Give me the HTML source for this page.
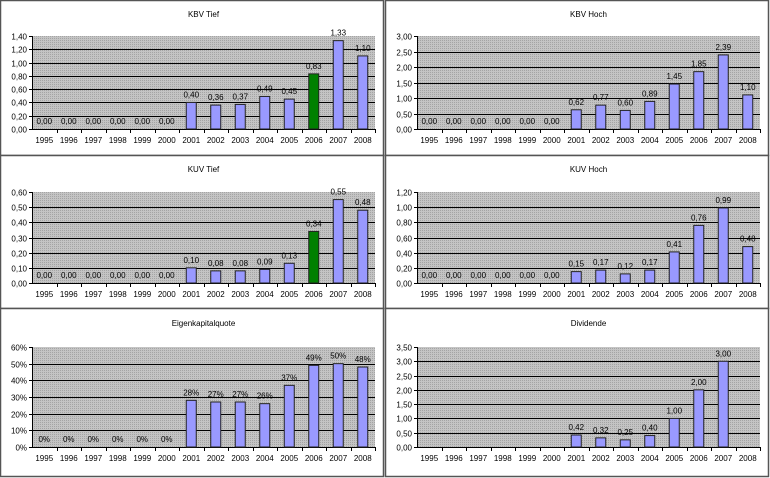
<!DOCTYPE html>
<html><head><meta charset="utf-8">
<style>
html,body{margin:0;padding:0;background:#fff;}
svg{display:block;font-family:"Liberation Sans",Arial,sans-serif;}
</style></head>
<body>
<svg id="c" width="770" height="478" viewBox="0 0 770 478" xmlns="http://www.w3.org/2000/svg">
<defs>
<pattern id="dots" width="2" height="2" patternUnits="userSpaceOnUse">
<rect width="2" height="2" fill="#c4c4c4"/><rect width="1" height="1" fill="#a4a4a4"/>
</pattern>
</defs>
</svg>
<script>
const years = ["1995","1996","1997","1998","1999","2000","2001","2002","2003","2004","2005","2006","2007","2008"];
const kbvTief = [0,0,0,0,0,0,0.40,0.36,0.37,0.49,0.45,0.83,1.33,1.10];
const kbvHoch = [0,0,0,0,0,0,0.62,0.77,0.60,0.89,1.45,1.85,2.39,1.10];
const kuvTief = [0,0,0,0,0,0,0.10,0.08,0.08,0.09,0.13,0.34,0.55,0.48];
const kuvHoch = [0,0,0,0,0,0,0.15,0.17,0.12,0.17,0.41,0.76,0.99,0.48];
const ekQuote = [0,0,0,0,0,0,28,27,27,26,37,49,50,48];
const dividende = [null,null,null,null,null,null,0.42,0.32,0.25,0.40,1.00,2.00,3.00,null];
const highlight = [false,false,false,false,false,false,false,false,false,false,false,true,false,false];

const NS="http://www.w3.org/2000/svg";
const svg=document.getElementById('c');
function mk(tag,attrs,parent){const e=document.createElementNS(NS,tag);for(const k in attrs)e.setAttribute(k,attrs[k]);(parent||svg).appendChild(e);return e;}

const panels=[
 {title:"KBV Tief",data:kbvTief,max:1.4,step:0.2,pct:false,hl:true,px:0,py:0,pw:383,ph:155,x0:32,x1:375,y0:36,y1:129},
 {title:"KBV Hoch",data:kbvHoch,max:3.0,step:0.5,pct:false,hl:false,px:385,py:0,pw:383,ph:155,x0:417,x1:760,y0:36,y1:129},
 {title:"KUV Tief",data:kuvTief,max:0.6,step:0.1,pct:false,hl:true,px:0,py:155,pw:383,ph:153,x0:32,x1:375,y0:192,y1:283},
 {title:"KUV Hoch",data:kuvHoch,max:1.2,step:0.2,pct:false,hl:false,px:385,py:155,pw:383,ph:153,x0:417,x1:760,y0:192,y1:283},
 {title:"Eigenkapitalquote",data:ekQuote,max:60,step:10,pct:true,hl:false,px:0,py:308,pw:383,ph:168,x0:32,x1:375,y0:347,y1:447},
 {title:"Dividende",data:dividende,max:3.5,step:0.5,pct:false,hl:false,px:385,py:308,pw:383,ph:168,x0:417,x1:760,y0:347,y1:447}
];

function fmt(v,pct){return pct?Math.round(v)+"%":v.toFixed(2).replace('.',',');}

panels.forEach((p,pi)=>{
  const g=mk('g',{});
  
  
  const fr=mk('rect',{x:p.px+0.5,y:p.py+0.5,width:p.pw,height:p.ph,fill:'#fff',stroke:'#555','stroke-width':1.5},g);
  
  
  const t=mk('text',{x:(p.x0+p.x1)/2,y:p.py+(pi<4?17:18),'text-anchor':'middle','font-size':'8',fill:'#000'},g);
  t.textContent=p.title;
  
  
  const yS=v=>p.y1-(v/p.max)*(p.y1-p.y0);
  const bg=mk('rect',{x:p.x0,y:p.y0,width:p.x1-p.x0,height:p.y1-p.y0,fill:'url(#dots)'},g);
  
  
  const n=Math.round(p.max/p.step);
  for(let i=0;i<=n;i++){
    const v=i*p.step,y=Math.round(yS(v))+0.5;
    if(i>0&&i<n){const l=mk('line',{x1:p.x0,x2:p.x1,y1:y,y2:y,stroke:'#000','stroke-width':1},g);
      
      }
    mk('line',{x1:p.x0-3,x2:p.x0,y1:y,y2:y,stroke:'#000'},g);
    const lb=mk('text',{x:p.x0-5,y:y+3,'text-anchor':'end','font-size':'8',fill:'#000'},g);
    lb.textContent=p.pct?Math.round(v)+"%":v.toFixed(2).replace('.',',');
    
    
  }
  mk('line',{x1:p.x0+0.5,x2:p.x0+0.5,y1:p.y0,y2:p.y1,stroke:'#000'},g);
  mk('line',{x1:p.x0,x2:p.x1,y1:p.y1+0.5,y2:p.y1+0.5,stroke:'#000'},g);
  const cw=(p.x1-p.x0)/years.length;
  years.forEach((yr,i)=>{
    const tx=Math.round(p.x0+cw*(i+1))+0.5;
    mk('line',{x1:tx,x2:tx,y1:p.y1,y2:p.y1+4,stroke:'#000'},g);
    const xl=mk('text',{x:p.x0+cw*(i+0.5),y:p.y1+14,'text-anchor':'middle','font-size':'8',fill:'#000'},g);
    xl.textContent=yr;
    
    
    const v=p.data[i];
    if(v===null)return;
    const cx=p.x0+cw*(i+0.5),bw=10;
    if(v>0){
      const b=mk('rect',{x:cx-bw/2,y:yS(v),width:bw,height:p.y1-yS(v),fill:(p.hl&&highlight[i])?'#008000':'#9999ff',stroke:'#222','stroke-width':1},g);
      
      
    }
    const vl=mk('text',{x:cx,y:yS(v)-5,'text-anchor':'middle','font-size':'8',fill:'#000'},g);
    vl.textContent=fmt(v,p.pct);
    
    
  });
});
</script>
</body></html>
